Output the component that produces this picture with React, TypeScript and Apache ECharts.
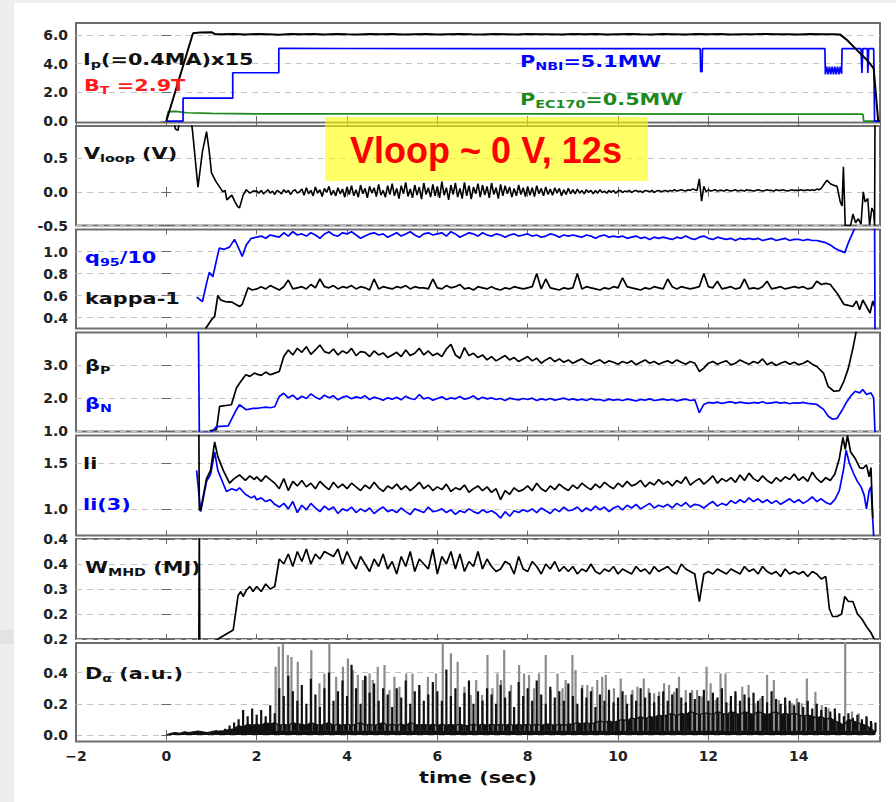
import React, { useEffect, useRef } from "react";
import * as echarts from "echarts";

// ---------------- data (time in s) ----------------
// Panel 1: Ip(=0.4MA)x15, P_NBI, P_EC170
const IP_EARLY = [[0, 0], [0.59, 6.12], [0.75, 6.18], [1.0, 6.2], [1.08, 6.06]];
const IP_FLAT_START = 1.25;
const IP_FLAT_STEP = 0.25;
const IP_FLAT = [6.05, 6.08, 6.03, 6.07, 6.06, 6.02, 6.08, 6.05, 6.07, 6.04,
  6.08, 6.05, 6.03, 6.07, 6.06, 6.08, 6.04, 6.06, 6.07, 6.03,
  6.06, 6.08, 6.05, 6.04, 6.07, 6.06, 6.03, 6.08, 6.05, 6.06,
  6.04, 6.07, 6.05, 6.08, 6.03, 6.06, 6.07, 6.05, 6.04, 6.07,
  6.06, 6.03, 6.07, 6.05, 6.08, 6.04, 6.06, 6.05, 6.07, 6.05,
  6.06, 6.04, 6.07, 6.05, 6.05];
const IP_LATE = [[14.92, 6.03], [15.07, 5.65], [15.29, 4.95], [15.51, 4.26], [15.66, 3.68], [15.76, 0.0]];

const PNBI_PTS = [[0, 0], [0.37, 0], [0.37, 1.6], [1.47, 1.6], [1.47, 3.37], [2.49, 3.37], [2.49, 5.07],
  [4, 5.06], [7, 5.05], [10, 5.05], [11.82, 5.05], [11.83, 3.44], [11.86, 3.44], [11.87, 5.05],
  [14.58, 5.05], [14.59, 3.25], [14.62, 3.8], [14.65, 3.25], [14.68, 3.8], [14.71, 3.25], [14.74, 3.8],
  [14.77, 3.25], [14.8, 3.8], [14.83, 3.25], [14.86, 3.8], [14.89, 3.25], [14.92, 3.8], [14.95, 3.3],
  [14.96, 5.05], [15.38, 5.05], [15.4, 3.35], [15.42, 5.05], [15.52, 5.05], [15.53, 3.35], [15.55, 5.05],
  [15.66, 5.05], [15.68, 0], [15.8, 0]];

const PEC_PTS = [[0, 0], [0.04, 0.66], [0.2, 0.68], [0.45, 0.58], [1.0, 0.53], [2.0, 0.5], [8, 0.5],
  [15.42, 0.48], [15.44, 0], [15.8, 0]];

// Panel 2: Vloop
const VLOOP_EARLY = [[0.12, 1.2], [0.2, 0.93], [0.26, 0.91], [0.32, 1.2], [0.5, 1.3], [0.58, 0.9], [0.7, 0.07],
  [0.8, 0.6], [0.89, 0.89], [0.95, 0.6], [1.0, 0.28], [1.1, 0.15], [1.2, 0.05], [1.25, 0.0], [1.3, 0.02],
  [1.34, -0.12], [1.45, -0.05], [1.52, -0.15], [1.58, -0.22], [1.62, -0.24], [1.7, -0.05], [1.77, 0.03],
  [1.85, -0.02], [1.92, 0.01]];
const VLOOP_START = 2.0;
const VLOOP_STEP = 0.05;
const VLOOP = [
  0.01, -0.02, 0.02, -0.03, 0.00, 0.03, -0.02, 0.01, -0.04, 0.02, 0.00, -0.03, 0.03, -0.01, 0.02, -0.04, 0.01, 0.03, -0.02, 0.00,
  0.04, -0.05, 0.06, -0.03, 0.02, -0.06, 0.07, -0.02, 0.03, -0.07, 0.05, -0.01, 0.08, -0.05, 0.02, -0.06, 0.06, -0.03, 0.04, -0.08,
  0.07, -0.04, 0.09, -0.06, 0.03, -0.08, 0.10, -0.03, 0.05, -0.09, 0.08, -0.02, 0.06, -0.07, 0.11, -0.05, 0.02, -0.08, 0.09, -0.04,
  0.12, -0.06, 0.05, -0.10, 0.09, -0.03, 0.14, -0.07, 0.04, -0.09, 0.10, -0.05, 0.07, -0.11, 0.13, -0.04, 0.06, -0.08, 0.11, -0.06,
  0.08, -0.09, 0.15, -0.05, 0.06, -0.12, 0.10, -0.04, 0.13, -0.08, 0.05, -0.10, 0.14, -0.06, 0.09, -0.11, 0.07, -0.03, 0.12, -0.08,
  0.10, -0.05, 0.08, -0.09, 0.13, -0.04, 0.06, -0.10, 0.11, -0.06, 0.09, -0.03, 0.07, -0.08, 0.05, -0.06, 0.10, -0.04, 0.06, -0.07,
  0.08, -0.05, 0.06, -0.07, 0.09, -0.03, 0.05, -0.06, 0.07, -0.04, 0.04, -0.05, 0.06, -0.02, 0.05, -0.06, 0.03, -0.04, 0.05, -0.03,
  0.03, -0.03, 0.04, -0.02, 0.02, -0.03, 0.03, -0.01, 0.02, -0.03, 0.02, -0.02, 0.03, -0.01, 0.01, -0.02, 0.02, -0.01, 0.02, -0.02,
  0.01, 0.02, -0.01, 0.01, 0.00, 0.02, -0.01, 0.01, 0.02, 0.00, 0.01, -0.01, 0.02, 0.01, 0.00, 0.02, -0.01, 0.01, 0.02, 0.00,
  0.01, 0.02, 0.00, 0.02, 0.01, 0.03, 0.01, 0.02, 0.03, 0.02, 0.01, 0.03, 0.02, 0.04, 0.03, 0.02, 0.19, -0.14, 0.08, 0.00,
  0.03, 0.01, 0.02, 0.03, 0.01, 0.02, 0.02, 0.01, 0.03, 0.02, 0.01, 0.02, 0.03, 0.01, 0.02, 0.02, 0.01, 0.03, 0.02, 0.02,
  0.01, 0.02, 0.03, 0.02, 0.01, 0.02, 0.03, 0.02, 0.02, 0.01, 0.03, 0.02, 0.02, 0.03, 0.02, 0.01, 0.02, 0.03, 0.02, 0.02,
  0.02, 0.03, 0.02, 0.02, 0.03, 0.02, 0.03, 0.02, 0.04, 0.03, 0.05];
const VLOOP_LATE = [[14.58, 0.13], [14.63, 0.17], [14.7, 0.12], [14.76, 0.1], [14.85, 0.08], [14.92, -0.15],
  [14.96, -0.21], [14.99, 0.37], [15.03, -0.5], [15.15, -0.5], [15.2, -0.33], [15.26, -0.46], [15.32, -0.4],
  [15.38, -0.48], [15.43, 0.0], [15.47, -0.15], [15.53, -0.1], [15.57, -0.5], [15.62, -0.24], [15.66, -0.3],
  [15.68, -0.5], [15.69, 1.2]];

// Panel 3: q95/10 and kappa-1
const Q95_EARLY = [[0.67, 0.585], [0.8, 0.545], [0.89, 0.71], [0.95, 0.81], [1.03, 0.77], [1.11, 0.92],
  [1.17, 1.03], [1.28, 1.02], [1.4, 1.04], [1.51, 1.11], [1.58, 1.05], [1.68, 0.955], [1.77, 1.06], [1.88, 1.12]];
const Q95_START = 2.0;
const Q95_STEP = 0.1;
const Q95 = [
  1.13, 1.14, 1.12, 1.15, 1.14, 1.13, 1.17, 1.14, 1.18, 1.15,
  1.16, 1.14, 1.17, 1.15, 1.12, 1.16, 1.18, 1.15, 1.14, 1.17,
  1.16, 1.18, 1.15, 1.12, 1.14, 1.16, 1.17, 1.15, 1.16, 1.13,
  1.15, 1.17, 1.14, 1.16, 1.18, 1.15, 1.13, 1.16, 1.17, 1.15,
  1.16, 1.17, 1.14, 1.18, 1.16, 1.13, 1.15, 1.17, 1.16, 1.14,
  1.17, 1.15, 1.14, 1.16, 1.15, 1.13, 1.15, 1.16, 1.14, 1.15,
  1.16, 1.14, 1.15, 1.13, 1.14, 1.16, 1.15, 1.13, 1.15, 1.14,
  1.15, 1.14, 1.13, 1.15, 1.14, 1.12, 1.14, 1.15, 1.13, 1.14,
  1.13, 1.14, 1.12, 1.13, 1.14, 1.12, 1.13, 1.11, 1.13, 1.12,
  1.13, 1.12, 1.11, 1.13, 1.12, 1.14, 1.12, 1.11, 1.13, 1.14,
  1.12, 1.11, 1.13, 1.12, 1.11, 1.12, 1.10, 1.12, 1.11, 1.12,
  1.11, 1.12, 1.10, 1.11, 1.12, 1.10, 1.11, 1.12, 1.10, 1.11,
  1.11, 1.10, 1.11, 1.10, 1.10, 1.09, 1.08, 1.06];
const Q95_LATE = [[14.8, 1.03], [14.9, 1.01], [15.02, 0.99], [15.1, 1.08], [15.25, 1.22], [15.5, 1.3],
  [15.68, 1.3], [15.69, 0.2]];

const KAPPA_EARLY = [[0.87, 0.3], [1.0, 0.38], [1.07, 0.41], [1.14, 0.6], [1.2, 0.56], [1.3, 0.545],
  [1.45, 0.54], [1.62, 0.5], [1.68, 0.52], [1.81, 0.67], [1.9, 0.65]];
const KAPPA_START = 2.0;
const KAPPA_STEP = 0.1;
const KAPPA = [
  0.66, 0.68, 0.66, 0.69, 0.67, 0.65, 0.68, 0.74, 0.66, 0.67,
  0.68, 0.66, 0.70, 0.67, 0.75, 0.68, 0.67, 0.69, 0.66, 0.68,
  0.67, 0.69, 0.66, 0.68, 0.67, 0.65, 0.75, 0.66, 0.68, 0.67,
  0.66, 0.68, 0.67, 0.69, 0.66, 0.68, 0.67, 0.67, 0.66, 0.75,
  0.67, 0.66, 0.69, 0.67, 0.68, 0.70, 0.66, 0.67, 0.65, 0.68,
  0.67, 0.66, 0.68, 0.66, 0.65, 0.67, 0.66, 0.68, 0.67, 0.66,
  0.67, 0.68, 0.80, 0.66, 0.75, 0.67, 0.66, 0.65, 0.67, 0.66,
  0.67, 0.80, 0.66, 0.68, 0.67, 0.66, 0.65, 0.67, 0.66, 0.68,
  0.67, 0.76, 0.68, 0.67, 0.66, 0.65, 0.67, 0.66, 0.68, 0.67,
  0.66, 0.75, 0.68, 0.66, 0.68, 0.67, 0.66, 0.67, 0.68, 0.80,
  0.68, 0.67, 0.73, 0.66, 0.67, 0.68, 0.66, 0.67, 0.75, 0.66,
  0.67, 0.66, 0.68, 0.73, 0.66, 0.67, 0.68, 0.66, 0.67, 0.68,
  0.67, 0.68, 0.66, 0.67, 0.73, 0.70, 0.71, 0.70];
const KAPPA_LATE = [[14.85, 0.62], [15.0, 0.52], [15.1, 0.51], [15.2, 0.5], [15.28, 0.55], [15.35, 0.47],
  [15.42, 0.56], [15.5, 0.5], [15.58, 0.44], [15.64, 0.55], [15.68, 0.5]];

// Panel 4: beta_P and beta_N
const BP_EARLY = [[0.96, 1.0], [1.11, 1.04], [1.18, 1.74], [1.44, 1.79], [1.55, 2.29], [1.62, 2.44],
  [1.76, 2.7], [1.85, 2.65], [1.95, 2.75]];
const BP_START = 2.0;
const BP_STEP = 0.1;
const BP = [
  2.72, 2.68, 2.78, 2.70, 2.75, 2.80, 3.25, 3.45, 3.30, 3.50,
  3.38, 3.55, 3.32, 3.45, 3.60, 3.40, 3.35, 3.48, 3.30, 3.42,
  3.35, 3.50, 3.28, 3.40, 3.38, 3.25, 3.42, 3.30, 3.36, 3.22,
  3.30, 3.38, 3.25, 3.45, 3.28, 3.35, 3.50, 3.30, 3.42, 3.28,
  3.35, 3.25, 3.48, 3.62, 3.30, 3.20, 3.52, 3.28, 3.35, 3.22,
  3.30, 3.15, 3.25, 3.12, 3.20, 3.28, 3.15, 3.22, 3.10, 3.18,
  3.25, 3.12, 3.20, 3.05, 3.15, 3.22, 3.10, 3.18, 3.08, 3.15,
  3.05, 3.12, 3.18, 3.08, 3.02, 3.10, 3.15, 3.05, 3.12, 3.08,
  3.02, 3.10, 3.05, 3.12, 3.00, 3.08, 3.15, 3.05, 3.10, 3.02,
  3.08, 3.12, 3.05, 3.15, 3.08, 3.02, 3.10, 3.05, 2.80, 2.90,
  3.05, 3.10, 3.02, 3.08, 3.12, 3.00, 3.05, 3.15, 3.08, 3.02,
  3.10, 3.05, 3.18, 3.00, 3.08, 2.98, 3.05, 3.10, 3.02, 3.08,
  3.00, 3.05, 3.12, 3.02, 2.95];
const BP_LATE = [[14.55, 2.75], [14.65, 2.35], [14.78, 2.2], [14.9, 2.22], [15.0, 2.5], [15.1, 2.9],
  [15.2, 3.5], [15.3, 4.2]];

const BN_EARLY = [[0.71, 4.3], [0.73, 0.95], [1.0, 0.95], [1.11, 1.13], [1.37, 1.15], [1.55, 1.64],
  [1.62, 1.79], [1.77, 1.64], [1.92, 1.68]];
const BN_START = 2.0;
const BN_STEP = 0.1;
const BN = [
  1.68, 1.70, 1.72, 1.70, 1.73, 2.04, 2.14, 2.00, 2.08, 1.95,
  2.05, 1.98, 2.12, 2.02, 1.96, 2.08, 2.00, 2.06, 1.94, 2.02,
  2.05, 1.97, 2.03, 1.99, 2.06, 1.95, 2.02, 1.98, 1.93, 2.00,
  1.96, 2.02, 1.94, 2.05, 1.98, 1.95, 2.10, 1.97, 2.01, 1.93,
  1.98, 2.03, 1.95, 2.00, 1.97, 2.04, 1.96, 1.99, 2.06, 1.95,
  2.02, 1.97, 2.00, 1.95, 1.98, 1.92, 1.99, 1.96, 1.94, 1.98,
  1.95, 1.99, 1.92, 1.97, 1.94, 1.98, 1.93, 1.96, 1.99, 1.94,
  1.97, 1.93, 1.96, 1.92, 1.98, 1.94, 1.95, 1.91, 1.96, 1.93,
  1.95, 1.92, 1.96, 1.94, 1.91, 1.95, 1.93, 1.97, 1.92, 1.94,
  1.96, 1.93, 1.95, 1.91, 1.94, 1.96, 1.92, 1.94, 1.55, 1.80,
  1.86, 1.84, 1.87, 1.83, 1.86, 1.88, 1.84, 1.87, 1.85, 1.83,
  1.86, 1.84, 1.88, 1.83, 1.85, 1.87, 1.84, 1.86, 1.82, 1.85,
  1.84, 1.86, 1.83, 1.82, 1.80];
const BN_LATE = [[14.55, 1.65], [14.65, 1.45], [14.75, 1.35], [14.85, 1.38], [14.95, 1.6], [15.05, 1.85],
  [15.15, 2.05], [15.25, 2.2], [15.35, 2.15], [15.42, 2.25], [15.5, 2.1], [15.6, 2.15], [15.66, 2.0], [15.69, 0.9]];

// Panel 5: li and li(3)
const LI_EARLY = [[0.72, 1.9], [0.73, 0.99], [0.76, 0.99], [0.89, 1.33], [0.98, 1.42], [1.07, 1.73],
  [1.14, 1.57], [1.26, 1.42], [1.4, 1.28], [1.5, 1.33], [1.62, 1.37], [1.75, 1.31], [1.85, 1.36], [1.95, 1.32]];
const LI_START = 2.0;
const LI_STEP = 0.1;
const LI = [
  1.35, 1.30, 1.36, 1.32, 1.28, 1.22, 1.33, 1.20, 1.30, 1.25,
  1.31, 1.24, 1.28, 1.22, 1.30, 1.25, 1.21, 1.29, 1.23, 1.27,
  1.22, 1.28, 1.24, 1.20, 1.26, 1.22, 1.29, 1.23, 1.19, 1.25,
  1.22, 1.27, 1.21, 1.25, 1.20, 1.24, 1.29, 1.22, 1.26, 1.20,
  1.24, 1.21, 1.27, 1.19, 1.23, 1.21, 1.26, 1.18, 1.22, 1.25,
  1.20, 1.24, 1.18, 1.22, 1.10, 1.20, 1.16, 1.23, 1.19, 1.21,
  1.25, 1.20, 1.28, 1.22, 1.19, 1.25, 1.21, 1.27, 1.23, 1.20,
  1.26, 1.22, 1.28, 1.24, 1.21, 1.27, 1.23, 1.29, 1.25, 1.22,
  1.28, 1.24, 1.30, 1.25, 1.27, 1.31, 1.24, 1.29, 1.26, 1.32,
  1.27, 1.30, 1.25, 1.31, 1.28, 1.35, 1.26, 1.30, 1.33, 1.27,
  1.31, 1.36, 1.28, 1.33, 1.30, 1.34, 1.29, 1.37, 1.31, 1.39,
  1.33, 1.30, 1.36, 1.31, 1.28, 1.34, 1.30, 1.35, 1.32, 1.38,
  1.31, 1.35, 1.30, 1.40, 1.33, 1.29, 1.34, 1.31, 1.38];
const LI_LATE = [[14.9, 1.55], [14.98, 1.78], [15.03, 1.65], [15.08, 1.8], [15.15, 1.62], [15.25, 1.55],
  [15.35, 1.45], [15.42, 1.44], [15.5, 1.48], [15.56, 1.35], [15.6, 1.45], [15.64, 0.9]];

const LI3_EARLY = [[0.67, 1.42], [0.76, 0.97], [0.89, 1.3], [0.98, 1.38], [1.07, 1.62], [1.14, 1.42],
  [1.33, 1.19], [1.45, 1.22], [1.55, 1.2], [1.62, 1.23], [1.75, 1.16], [1.88, 1.12], [1.95, 1.14]];
const LI3_START = 2.0;
const LI3_STEP = 0.1;
const LI3 = [
  1.10, 1.12, 1.08, 1.10, 1.05, 1.02, 1.06, 1.00, 1.08, 0.96,
  1.04, 0.99, 1.06, 1.01, 0.97, 1.03, 0.99, 1.02, 0.95, 1.00,
  0.98, 1.02, 0.96, 1.00, 0.97, 1.01, 0.95, 0.99, 1.02, 0.97,
  0.99, 0.96, 1.01, 0.97, 0.94, 1.00, 0.98, 0.96, 1.02, 0.97,
  0.98, 1.00, 0.96, 0.99, 0.94, 0.98, 0.96, 1.00, 0.97, 0.95,
  0.99, 0.96, 0.98, 0.95, 0.90, 0.97, 0.92, 0.98, 0.96, 0.99,
  0.97, 1.00, 0.96, 1.01, 0.98, 0.95, 1.00, 0.97, 1.02, 0.98,
  0.99, 1.02, 0.97, 1.01, 0.98, 1.03, 0.99, 1.02, 0.97, 1.01,
  1.03, 0.99, 1.04, 1.01, 1.05, 1.00, 1.03, 1.06, 1.01, 1.04,
  1.02, 1.05, 1.01, 1.06, 1.03, 1.07, 1.02, 1.05, 1.04, 1.01,
  1.05, 1.08, 1.03, 1.06, 1.04, 1.09, 1.06, 1.10, 1.07, 1.12,
  1.08, 1.11, 1.07, 1.10, 1.06, 1.09, 1.05, 1.08, 1.11, 1.07,
  1.10, 1.06, 1.09, 1.13, 1.08, 1.11, 1.07, 1.05, 1.10];
const LI3_LATE = [[14.9, 1.2], [15.0, 1.45], [15.05, 1.64], [15.12, 1.5], [15.22, 1.38], [15.3, 1.3],
  [15.38, 1.24], [15.45, 1.15], [15.5, 1.0], [15.56, 1.2], [15.6, 1.24], [15.66, 0.7]];

// Panel 6: W_MHD
const W_EARLY = [[0.72, 0.05], [0.73, 0.56], [0.74, 0.05], [1.18, 0.104], [1.48, 0.136], [1.59, 0.275],
  [1.65, 0.29], [1.7, 0.27], [1.77, 0.295], [1.85, 0.31], [1.92, 0.29]];
const W_START = 2.0;
const W_STEP = 0.1;
const W = [
  0.31, 0.29, 0.32, 0.30, 0.31, 0.42, 0.40, 0.44, 0.39, 0.45,
  0.41, 0.46, 0.40, 0.44, 0.42, 0.45, 0.44, 0.43, 0.46, 0.40,
  0.45, 0.41, 0.38, 0.43, 0.40, 0.37, 0.42, 0.39, 0.44, 0.38,
  0.41, 0.36, 0.43, 0.39, 0.45, 0.37, 0.42, 0.40, 0.38, 0.46,
  0.36, 0.43, 0.40, 0.45, 0.38, 0.44, 0.37, 0.41, 0.39, 0.45,
  0.38, 0.42, 0.39, 0.37, 0.38, 0.41, 0.40, 0.36, 0.43, 0.38,
  0.37, 0.41, 0.39, 0.36, 0.40, 0.38, 0.41, 0.37, 0.39, 0.37,
  0.39, 0.36, 0.38, 0.37, 0.40, 0.37, 0.36, 0.38, 0.37, 0.39,
  0.36, 0.38, 0.37, 0.36, 0.39, 0.37, 0.38, 0.36, 0.39, 0.37,
  0.38, 0.39, 0.37, 0.36, 0.40, 0.38, 0.37, 0.36, 0.25, 0.36,
  0.37, 0.36, 0.38, 0.37, 0.36, 0.38, 0.37, 0.36, 0.39, 0.37,
  0.38, 0.36, 0.39, 0.37, 0.36, 0.37, 0.35, 0.38, 0.36, 0.37,
  0.36, 0.37, 0.35, 0.37, 0.36, 0.34, 0.35];
const W_LATE = [[14.68, 0.22], [14.75, 0.19], [14.85, 0.19], [14.95, 0.2], [15.02, 0.27], [15.1, 0.25],
  [15.2, 0.25], [15.3, 0.2], [15.4, 0.18], [15.5, 0.15], [15.6, 0.125], [15.67, 0.1]];

// Panel 7: D_alpha
const DA_BASE_START = 0.0;
const DA_BASE_STEP = 0.1;
const DA_BASE = [
  0.0, 0.01, 0.015, 0.01, 0.02, 0.015, 0.02, 0.025, 0.02, 0.015,
  0.02, 0.025, 0.02, 0.03, 0.035, 0.04, 0.06, 0.05, 0.07, 0.06,
  0.07, 0.06, 0.08, 0.07, 0.08, 0.06, 0.07, 0.06, 0.08, 0.07,
  0.07, 0.06, 0.08, 0.07, 0.06, 0.07, 0.08, 0.06, 0.07, 0.06,
  0.07, 0.06, 0.07, 0.08, 0.06, 0.07, 0.06, 0.07, 0.08, 0.06,
  0.07, 0.06, 0.07, 0.06, 0.08, 0.07, 0.06, 0.07, 0.06, 0.07,
  0.06, 0.07, 0.06, 0.07, 0.06, 0.07, 0.06, 0.06, 0.07, 0.06,
  0.07, 0.06, 0.07, 0.06, 0.07, 0.06, 0.07, 0.06, 0.07, 0.06,
  0.07, 0.06, 0.07, 0.06, 0.07, 0.07, 0.06, 0.07, 0.06, 0.07,
  0.07, 0.08, 0.07, 0.08, 0.07, 0.08, 0.09, 0.08, 0.09, 0.08,
  0.09, 0.10, 0.09, 0.11, 0.10, 0.12, 0.10, 0.12, 0.11, 0.13,
  0.12, 0.13, 0.14, 0.12, 0.14, 0.13, 0.15, 0.14, 0.13, 0.14,
  0.14, 0.13, 0.15, 0.14, 0.13, 0.15, 0.14, 0.13, 0.15, 0.14,
  0.13, 0.15, 0.14, 0.13, 0.14, 0.15, 0.13, 0.14, 0.13, 0.14,
  0.13, 0.12, 0.13, 0.12, 0.11, 0.12, 0.10, 0.11, 0.09, 0.08,
  0.06, 0.10, 0.09, 0.08, 0.07, 0.06, 0.04, 0.02];
const DA_BLACK_START = 1.0;
const DA_BLACK_STEP = 0.1;
const DA_BLACK = [
  0.02, 0.03, 0.03, 0.04, 0.06, 0.08, 0.10, 0.16, 0.12, 0.17,
  0.13, 0.16, 0.12, 0.19, 0.14, 0.30, 0.25, 0.38, 0.28, 0.22,
  0.32, 0.20, 0.36, 0.26, 0.18, 0.30, 0.40, 0.22, 0.28, 0.35,
  0.25, 0.45, 0.30, 0.20, 0.38, 0.27, 0.33, 0.22, 0.30, 0.26,
  0.18, 0.30, 0.24, 0.35, 0.20, 0.28, 0.32, 0.22, 0.26, 0.34,
  0.28, 0.22, 0.42, 0.25, 0.30, 0.18, 0.27, 0.35, 0.20, 0.28,
  0.22, 0.30, 0.26, 0.20, 0.32, 0.24, 0.28, 0.18, 0.34, 0.25,
  0.30, 0.22, 0.35, 0.26, 0.20, 0.31, 0.24, 0.28, 0.22, 0.33,
  0.25, 0.20, 0.30, 0.24, 0.28, 0.18, 0.26, 0.22, 0.29, 0.21,
  0.24, 0.28, 0.20, 0.26, 0.22, 0.30, 0.24, 0.27, 0.21, 0.25,
  0.28, 0.22, 0.26, 0.30, 0.24, 0.21, 0.27, 0.23, 0.25, 0.29,
  0.22, 0.27, 0.24, 0.30, 0.21, 0.25, 0.28, 0.22, 0.26, 0.24,
  0.27, 0.22, 0.25, 0.21, 0.28, 0.23, 0.20, 0.24, 0.22, 0.19,
  0.21, 0.18, 0.22, 0.17, 0.20, 0.16, 0.18, 0.15, 0.17, 0.14,
  0.12, 0.14, 0.11, 0.13, 0.10, 0.12, 0.09, 0.08];
const DA_GRAY = [
  [2.42, 0.438], [2.49, 0.566], [2.58, 0.588], [2.69, 0.513], [2.77, 0.5], [2.91, 0.47], [3.21, 0.545],
  [3.39, 0.331], [3.5, 0.395], [3.61, 0.588], [3.76, 0.374], [3.91, 0.438], [4.02, 0.491], [4.13, 0.417],
  [4.24, 0.385], [4.35, 0.353], [4.42, 0.374], [4.5, 0.395], [4.57, 0.353], [4.68, 0.438], [4.83, 0.449],
  [4.94, 0.288], [5.05, 0.374], [5.16, 0.31], [5.31, 0.395], [5.45, 0.395], [5.6, 0.288], [5.79, 0.374],
  [5.97, 0.395], [6.12, 0.588], [6.3, 0.524], [6.45, 0.47], [6.6, 0.31], [6.74, 0.256], [6.86, 0.353],
  [6.99, 0.256], [7.11, 0.513], [7.22, 0.299], [7.33, 0.395], [7.41, 0.353], [7.48, 0.545], [7.63, 0.32],
  [7.81, 0.449], [7.92, 0.395], [8.03, 0.385], [8.14, 0.299], [8.25, 0.395], [8.4, 0.513], [8.51, 0.288],
  [8.66, 0.395], [8.77, 0.299], [8.84, 0.353], [8.99, 0.513], [9.06, 0.417], [9.21, 0.32], [9.32, 0.32],
  [9.43, 0.31], [9.54, 0.353], [9.65, 0.374], [9.73, 0.385], [9.8, 0.267], [9.91, 0.299], [10.06, 0.363],
  [10.17, 0.256], [10.32, 0.288], [10.43, 0.31], [10.57, 0.363], [10.68, 0.299], [10.8, 0.267], [10.91, 0.278],
  [11.02, 0.331], [11.13, 0.32], [11.24, 0.278], [11.35, 0.374], [11.5, 0.288], [11.64, 0.288], [11.75, 0.288],
  [11.86, 0.246], [11.96, 0.438], [12.05, 0.331], [12.16, 0.224], [12.27, 0.395], [12.38, 0.395], [12.49, 0.214],
  [12.6, 0.256], [12.75, 0.31], [12.89, 0.32], [13.04, 0.203], [13.15, 0.235], [13.3, 0.385], [13.45, 0.353],
  [13.56, 0.224], [13.71, 0.192], [13.85, 0.203], [13.96, 0.235], [14.07, 0.203], [14.18, 0.363], [14.37, 0.278],
  [14.51, 0.192], [14.66, 0.171], [14.81, 0.128], [15.03, 0.6], [15.18, 0.15], [15.33, 0.139], [15.51, 0.107],
  [15.62, 0.075]];

// ---------------- axes ----------------
const X_MIN = -2;
const X_MAX = 15.8;
const X_INTERVAL = 2;
const X_TICK_VALUES = [-2, 0, 2, 4, 6, 8, 10, 12, 14];
const X_TICK_LABELS = ["\u22122", "0", "2", "4", "6", "8", "10", "12", "14"];

const Y_MIN = [-0.1, -0.5, 0.3, 0.98, 0.71, 0.1, -0.042];
const Y_MAX = [6.84, 0.975, 1.2, 3.98, 1.8, 0.5, 0.59];
const Y_TICKS = [
  [0, 2, 4, 6],
  [-0.5, 0, 0.5],
  [0.4, 0.6, 0.8, 1.0],
  [1, 2, 3],
  [1.0, 1.5],
  [0.1, 0.2, 0.3, 0.4, 0.5],
  [0, 0.2, 0.4],
];
const Y_TICK_LABELS = [
  ["0.0", "2.0", "4.0", "6.0"],
  ["-0.5", "0.0", "0.5"],
  ["0.4", "0.6", "0.8", "1.0"],
  ["1.0", "2.0", "3.0"],
  ["1.0", "1.5"],
  ["0.2", "0.2", "0.3", "0.4", "0.4"],
  ["0.0", "0.2", "0.4"],
];

// ---------------- layout ----------------
const GRID_LEFT = 76;
const GRID_WIDTH = 804;
const GRID_TOPS = [23, 126, 229.5, 332.5, 435.5, 539, 643];
const GRID_HEIGHTS = [99.5, 99.5, 99, 99, 100, 100, 98.5];

const FONT = '"DejaVu Sans", Verdana, sans-serif';
const BLACK = "#000000";
const BLUE = "#0000ff";
const GREEN = "#1b8a1b";
const RED = "#ff1a1a";
const GRAY_SPIKE = "#8c8c8c";

function reg(start: number, step: number, vals: number[]) {
  return vals.map((v, i) => [Math.round((start + i * step) * 1000) / 1000, v]);
}
function spikes(pts: number[][], base: number) {
  const out: number[][] = [];
  pts.forEach(([t, v]) => {
    out.push([t, base], [t, v], [t, base]);
  });
  return out;
}

function lineSeries(g: number, data: number[][], color: string, width = 1.7, extra: any = {}) {
  return {
    type: "line",
    xAxisIndex: 2 * g,
    yAxisIndex: 2 * g,
    data,
    symbol: "none",
    showSymbol: false,
    silent: true,
    animation: false,
    lineStyle: { color, width },
    itemStyle: { color },
    ...extra,
  };
}

function label(x: number, y: number, parts: [string, string][], color: string) {
  const text = parts.map(([k, s]) => `{${k}|${s}}`).join("");
  return {
    type: "text",
    x,
    y,
    scaleX: 1.3,
    z: 100,
    silent: true,
    style: {
      text,
      fill: color,
      align: "left",
      verticalAlign: "middle",
      rich: {
        m: { fontSize: 16, fontWeight: "bold", fontFamily: FONT, fill: color, lineHeight: 22, verticalAlign: "middle" },
        s: { fontSize: 11, fontWeight: "bold", fontFamily: FONT, fill: color, lineHeight: 11, verticalAlign: "bottom" },
      },
    },
  };
}

function buildOption() {
  const grid: any[] = [];
  const xAxis: any[] = [];
  const yAxis: any[] = [];
  for (let g = 0; g < 7; g++) {
    grid.push({
      left: GRID_LEFT,
      top: GRID_TOPS[g],
      width: GRID_WIDTH,
      height: GRID_HEIGHTS[g],
      show: true,
      borderColor: "#6e6e6e",
      borderWidth: 2,
      backgroundColor: "#ffffff",
      containLabel: false,
      outerBoundsMode: "none",
    });
    const tickStyle = { show: true, inside: true, length: 5, lineStyle: { color: "#666", width: 1 } };
    xAxis.push({
      type: "value",
      gridIndex: g,
      min: X_MIN,
      max: X_MAX,
      interval: X_INTERVAL,
      position: "bottom",
      axisLine: { show: false },
      axisTick: tickStyle,
      splitLine: { show: false },
      axisLabel: {
        show: g === 6,
        showMaxLabel: false,
        margin: 7,
        fontSize: 14,
        fontWeight: "bold",
        fontFamily: FONT,
        color: "#222",
        formatter: (v: number) => {
          const i = X_TICK_VALUES.findIndex((t) => Math.abs(t - v) < 1e-6);
          return i >= 0 ? X_TICK_LABELS[i] : "";
        },
      },
    });
    xAxis.push({
      type: "value",
      gridIndex: g,
      min: X_MIN,
      max: X_MAX,
      interval: X_INTERVAL,
      position: "top",
      axisLine: { show: false },
      axisTick: tickStyle,
      splitLine: { show: false },
      axisLabel: { show: false },
    });
    const ticks = Y_TICKS[g];
    const labels = Y_TICK_LABELS[g];
    yAxis.push({
      type: "value",
      gridIndex: g,
      min: Y_MIN[g],
      max: Y_MAX[g],
      position: "left",
      axisLine: { show: false },
      axisTick: { ...tickStyle, customValues: ticks },
      axisLabel: {
        customValues: ticks,
        margin: 8,
        fontSize: 14,
        fontWeight: "bold",
        fontFamily: FONT,
        color: "#222",
        formatter: (v: number) => {
          const i = ticks.findIndex((t) => Math.abs(t - v) < 1e-6);
          return i >= 0 ? labels[i] : "";
        },
      },
      splitLine: { show: true, lineStyle: { color: "#c4c4c4", width: 1, type: [6, 5] } },
    });
    yAxis.push({
      type: "value",
      gridIndex: g,
      min: Y_MIN[g],
      max: Y_MAX[g],
      position: "right",
      axisLine: { show: false },
      axisTick: { ...tickStyle, customValues: ticks },
      axisLabel: { show: false },
      splitLine: { show: false },
    });
  }

  const series: any[] = [
    // panel 1
    lineSeries(0, PEC_PTS, GREEN),
    lineSeries(0, PNBI_PTS, BLUE),
    lineSeries(0, [...IP_EARLY, ...reg(IP_FLAT_START, IP_FLAT_STEP, IP_FLAT), ...IP_LATE], BLACK, 2),
    // panel 2
    lineSeries(1, [...VLOOP_EARLY, ...reg(VLOOP_START, VLOOP_STEP, VLOOP), ...VLOOP_LATE], BLACK, 1.6),
    // panel 3
    lineSeries(2, [...KAPPA_EARLY, ...reg(KAPPA_START, KAPPA_STEP, KAPPA), ...KAPPA_LATE], BLACK),
    lineSeries(2, [...Q95_EARLY, ...reg(Q95_START, Q95_STEP, Q95), ...Q95_LATE], BLUE),
    // panel 4
    lineSeries(3, [...BP_EARLY, ...reg(BP_START, BP_STEP, BP), ...BP_LATE], BLACK),
    lineSeries(3, [...BN_EARLY, ...reg(BN_START, BN_STEP, BN), ...BN_LATE], BLUE),
    // panel 5
    lineSeries(4, [...LI3_EARLY, ...reg(LI3_START, LI3_STEP, LI3), ...LI3_LATE], BLUE),
    lineSeries(4, [...LI_EARLY, ...reg(LI_START, LI_STEP, LI), ...LI_LATE], BLACK),
    // panel 6
    lineSeries(5, [...W_EARLY, ...reg(W_START, W_STEP, W), ...W_LATE], BLACK),
    // panel 7
    lineSeries(6, spikes(DA_GRAY, 0.02), GRAY_SPIKE, 2.2),
    lineSeries(6, spikes(reg(DA_BLACK_START, DA_BLACK_STEP, DA_BLACK), 0.02), "#111", 2.2),
    lineSeries(6, reg(DA_BASE_START, DA_BASE_STEP, DA_BASE), "#111", 1.2, {
      areaStyle: { color: "#111", opacity: 1 },
    }),
  ];

  const graphic: any[] = [
    { type: "rect", shape: { x: 0, y: 0, width: 14, height: 802 }, style: { fill: "#eeeeee" }, silent: true, z: -5 },
    { type: "rect", shape: { x: 0, y: 0, width: 896, height: 3 }, style: { fill: "#eeeeee" }, silent: true, z: -5 },
    { type: "rect", shape: { x: 0, y: 630, width: 14, height: 14 }, style: { fill: "#e3e3e3" }, silent: true, z: -5 },
    label(83, 59, [["m", "I"], ["s", "p"], ["m", "(=0.4MA)x15"]], "#111"),
    label(84, 85, [["m", "B"], ["s", "T"], ["m", " =2.9T"]], RED),
    label(520, 61, [["m", "P"], ["s", "NBI"], ["m", "=5.1MW"]], BLUE),
    label(520, 99, [["m", "P"], ["s", "EC170"], ["m", "=0.5MW"]], GREEN),
    label(84, 153, [["m", "V"], ["s", "loop"], ["m", " (V)"]], "#111"),
    label(85, 257, [["m", "q"], ["s", "95"], ["m", "/10"]], BLUE),
    label(85, 298, [["m", "kappa-1"]], "#111"),
    label(85, 365, [["m", "\u03b2"], ["s", "P"]], "#111"),
    label(85, 403, [["m", "\u03b2"], ["s", "N"]], BLUE),
    label(83, 463, [["m", "li"]], "#111"),
    label(83, 504, [["m", "li(3)"]], BLUE),
    label(85, 567, [["m", "W"], ["s", "MHD"], ["m", " (MJ)"]], "#111"),
    label(85, 673, [["m", "D"], ["s", "\u03b1"], ["m", " (a.u.)"]], "#111"),
    {
      type: "text",
      x: 478,
      y: 777,
      scaleX: 1.3,
      z: 100,
      silent: true,
      style: {
        text: "time (sec)",
        fill: "#111",
        font: `bold 16px ${FONT}`,
        align: "center",
        verticalAlign: "middle",
      },
    },
    {
      type: "rect",
      shape: { x: 325, y: 117, width: 323, height: 64 },
      style: { fill: "rgba(255,255,0,0.6)" },
      silent: true,
      z: 110,
    },
    {
      type: "text",
      x: 486,
      y: 150,
      z: 120,
      silent: true,
      style: {
        text: "Vloop ~ 0 V, 12s",
        fill: "#ff0000",
        font: 'bold 36px "Liberation Sans", Arial, sans-serif',
        align: "center",
        verticalAlign: "middle",
      },
    },
  ];

  return {
    animation: false,
    backgroundColor: "#ffffff",
    grid,
    xAxis,
    yAxis,
    series,
    graphic,
  };
}

export default function App() {
  const ref = useRef<HTMLDivElement>(null);
  useEffect(() => {
    if (!ref.current) return;
    const chart = echarts.init(ref.current, null, { renderer: "svg", width: 896, height: 802 });
    chart.setOption(buildOption() as any);
    return () => chart.dispose();
  }, []);
  return (
    <div
      ref={ref}
      style={{ position: "fixed", left: 0, top: 0, width: 896, height: 802, background: "#fff" }}
    />
  );
}
